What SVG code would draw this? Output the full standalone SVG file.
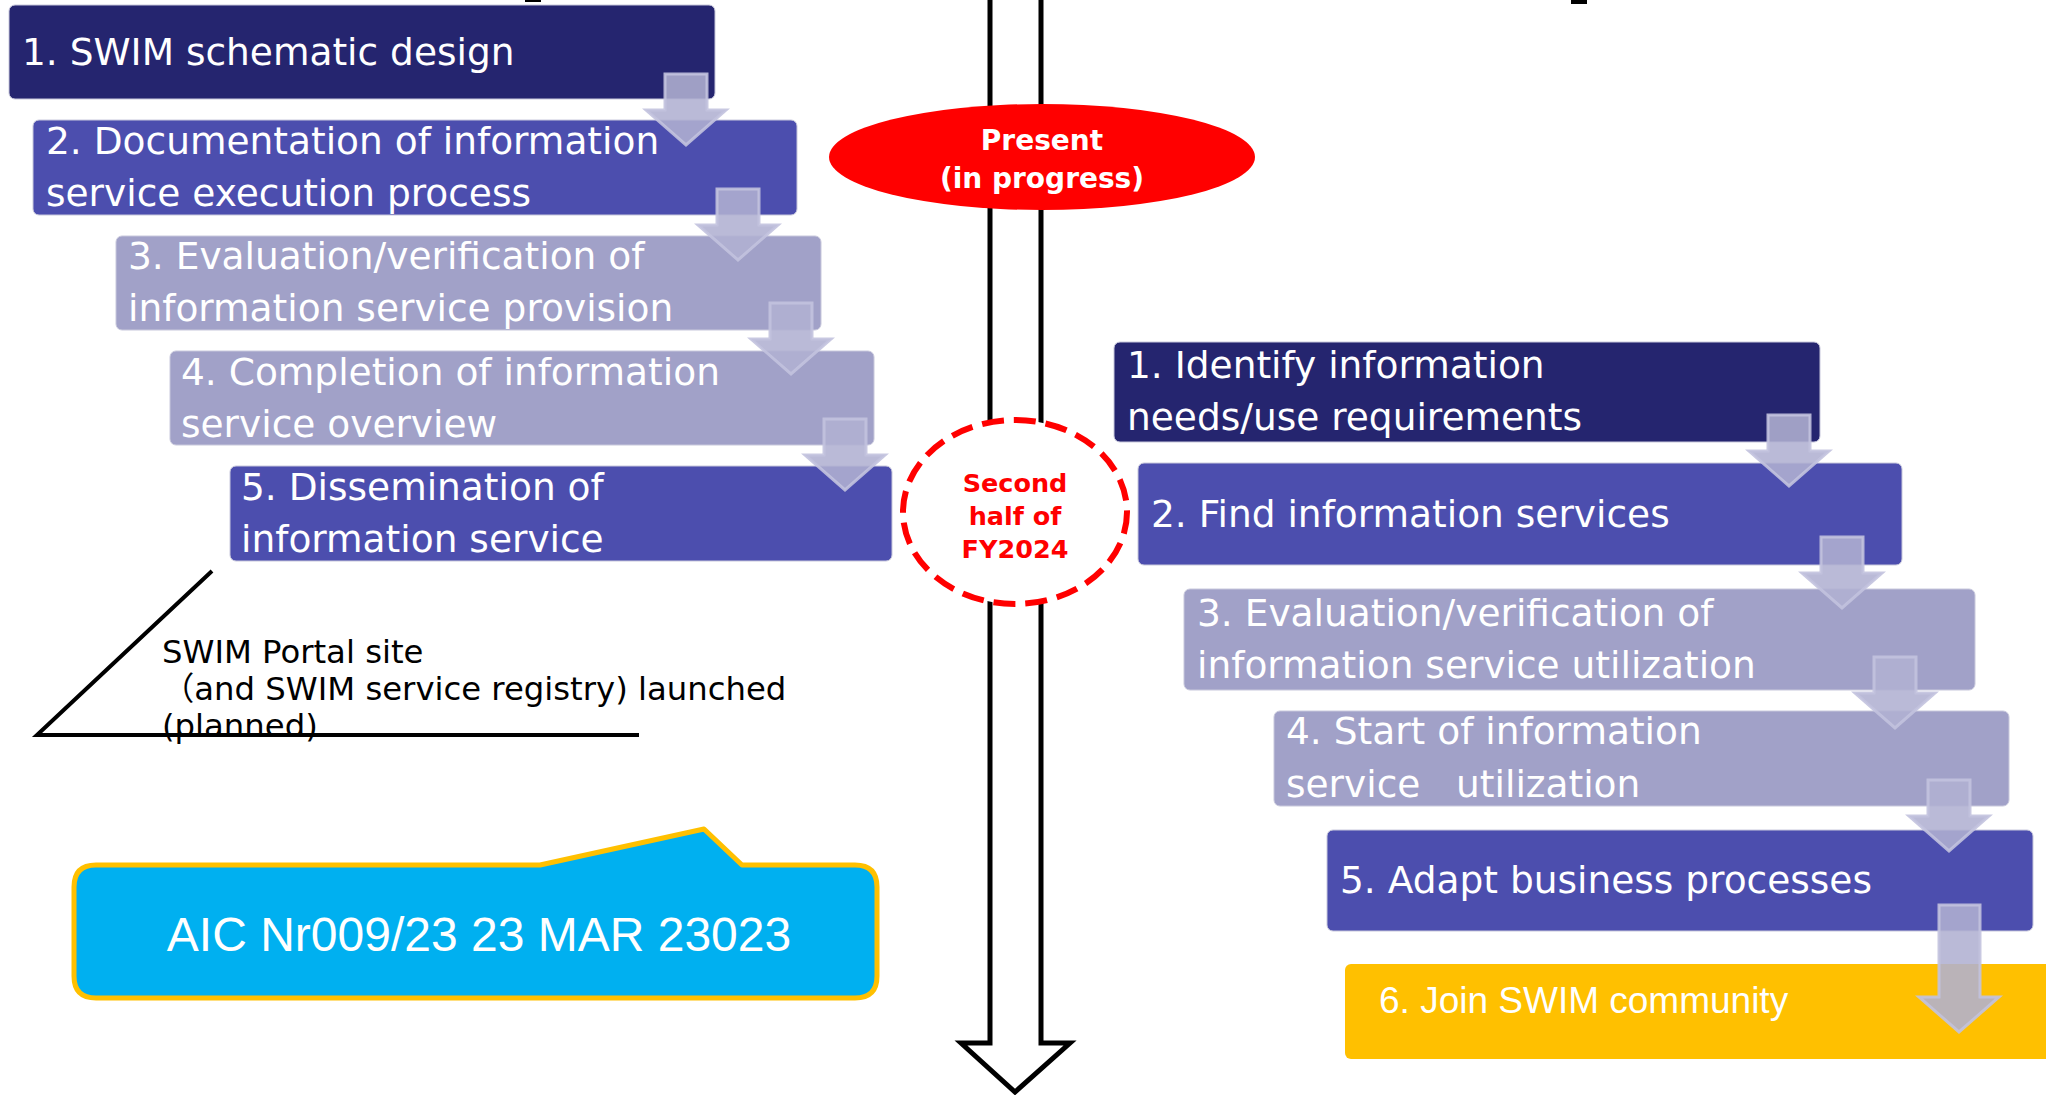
<svg xmlns="http://www.w3.org/2000/svg" width="2046" height="1095" viewBox="0 0 2046 1095">
<style>
.bt{font-family:"DejaVu Sans","Noto Sans",sans-serif;font-size:37.5px;fill:#ffffff;white-space:pre}
.navy{fill:#25256f;stroke:#c8c8dc;stroke-width:1}
.mid{fill:#4c4eae;stroke:#c8c8dc;stroke-width:1}
.lav{fill:#a1a1c8;stroke:#c8c8dc;stroke-width:1}
.arr{fill:#b0b0d2;fill-opacity:0.88;stroke:#c2c2de;stroke-opacity:0.9;stroke-width:3;stroke-linejoin:miter}
.red{font-family:"DejaVu Sans","Noto Sans",sans-serif;font-weight:bold;text-anchor:middle}
</style>
<defs>
<path id="chev" d="M-21,0 H21 V36 H40 L0,71 L-40,36 H-21 Z"/>
</defs>
<rect width="2046" height="1095" fill="#ffffff"/>
<rect x="525" y="0" width="16" height="2" fill="#000"/>
<rect x="1571" y="0" width="16" height="4" fill="#000"/>

<g id="timeline">
<polygon points="990,-5 990,1043 961,1043 1015,1092 1070,1043 1041,1043 1041,-5" fill="#ffffff" stroke="#000000" stroke-width="5"/>
</g>

<g id="present">
<ellipse cx="1042" cy="157" rx="213" ry="53" fill="#ff0000"/>
<text class="red" x="1042" y="150" font-size="28" fill="#ffffff">Present</text>
<text class="red" x="1042" y="188" font-size="28" fill="#ffffff">(in progress)</text>
</g>

<g id="second-half">
<ellipse cx="1015" cy="512" rx="112" ry="92" fill="#ffffff" stroke="#ff0000" stroke-width="6" stroke-dasharray="22 10"/>
<text class="red" x="1015" y="492" font-size="25.5" fill="#ff0000">Second</text>
<text class="red" x="1015" y="525" font-size="25.5" fill="#ff0000">half of</text>
<text class="red" x="1015" y="558" font-size="25.5" fill="#ff0000">FY2024</text>
</g>

<g id="L1"><rect class="navy" x="9" y="5" width="706" height="94" rx="6"/><text class="bt" x="22" y="65">1. SWIM schematic design</text></g>
<g id="L2"><rect class="mid" x="33" y="120" width="764" height="95" rx="6"/><text class="bt" x="46" y="154">2. Documentation of information</text><text class="bt" x="46" y="206">service execution process</text></g>
<g id="L3"><rect class="lav" x="116" y="236" width="705" height="94" rx="6"/><text class="bt" x="128" y="269">3. Evaluation/verification of</text><text class="bt" x="128" y="321">information service provision</text></g>
<g id="L4"><rect class="lav" x="170" y="351" width="704" height="94" rx="6"/><text class="bt" x="181" y="385">4. Completion of information</text><text class="bt" x="181" y="437">service overview</text></g>
<g id="L5"><rect class="mid" x="230" y="466" width="662" height="95" rx="6"/><text class="bt" x="241" y="500">5. Dissemination of</text><text class="bt" x="241" y="552">information service</text></g>

<g id="R1"><rect class="navy" x="1114" y="342" width="706" height="100" rx="6"/><text class="bt" x="1127" y="378">1. Identify information</text><text class="bt" x="1127" y="430">needs/use requirements</text></g>
<g id="R2"><rect class="mid" x="1138" y="463" width="764" height="102" rx="6"/><text class="bt" x="1151" y="527">2. Find information services</text></g>
<g id="R3"><rect class="lav" x="1184" y="589" width="791" height="101" rx="6"/><text class="bt" x="1197" y="626">3. Evaluation/verification of</text><text class="bt" x="1197" y="678">information service utilization</text></g>
<g id="R4"><rect class="lav" x="1274" y="711" width="735" height="95" rx="6"/><text class="bt" x="1286" y="744">4. Start of information</text><text class="bt" x="1286" y="797">service   utilization</text></g>
<g id="R5"><rect class="mid" x="1327" y="830" width="706" height="101" rx="6"/><text class="bt" x="1340" y="893">5. Adapt business processes</text></g>
<g id="R6"><rect x="1345" y="964" width="730" height="95" rx="6" fill="#ffc000"/><text x="1379" y="1013" font-family="Liberation Sans, Arial, sans-serif" font-size="37" fill="#ffffff">6. Join SWIM community</text></g>

<g id="portal-note">
<polyline points="212,571 37,735 639,735" fill="none" stroke="#000000" stroke-width="4"/>
<text font-family="DejaVu Sans, sans-serif" font-size="32.3" fill="#000000" xml:space="preserve"><tspan x="162" y="663">SWIM Portal site</tspan><tspan x="162" y="700" font-family="DejaVu Sans, Noto Sans CJK JP, sans-serif">（and SWIM service registry) launched</tspan><tspan x="162" y="737">(planned)</tspan></text>
</g>

<g id="aic">
<path d="M96,865 H540 L704,829 L742,865 H855 Q877,865 877,887 V976 Q877,998 855,998 H96 Q74,998 74,976 V887 Q74,865 96,865 Z" fill="#00b0f0" stroke="#ffc000" stroke-width="5" stroke-linejoin="round"/>
<text x="479" y="951" font-family="Liberation Sans, Arial, sans-serif" font-size="48" fill="#ffffff" text-anchor="middle">AIC Nr009/23 23 MAR 23023</text>
</g>

<g id="connectors">
<use href="#chev" class="arr" transform="translate(686,74)"/>
<use href="#chev" class="arr" transform="translate(738,189)"/>
<use href="#chev" class="arr" transform="translate(791,303)"/>
<use href="#chev" class="arr" transform="translate(845,419)"/>
<use href="#chev" class="arr" transform="translate(1789,415)"/>
<use href="#chev" class="arr" transform="translate(1842,537)"/>
<use href="#chev" class="arr" transform="translate(1895,657)"/>
<use href="#chev" class="arr" transform="translate(1949,780)"/>
<path class="arr" d="M1939,905 H1980 V997 H1999 L1959,1032 L1919,997 H1939 Z"/>
</g>
</svg>
